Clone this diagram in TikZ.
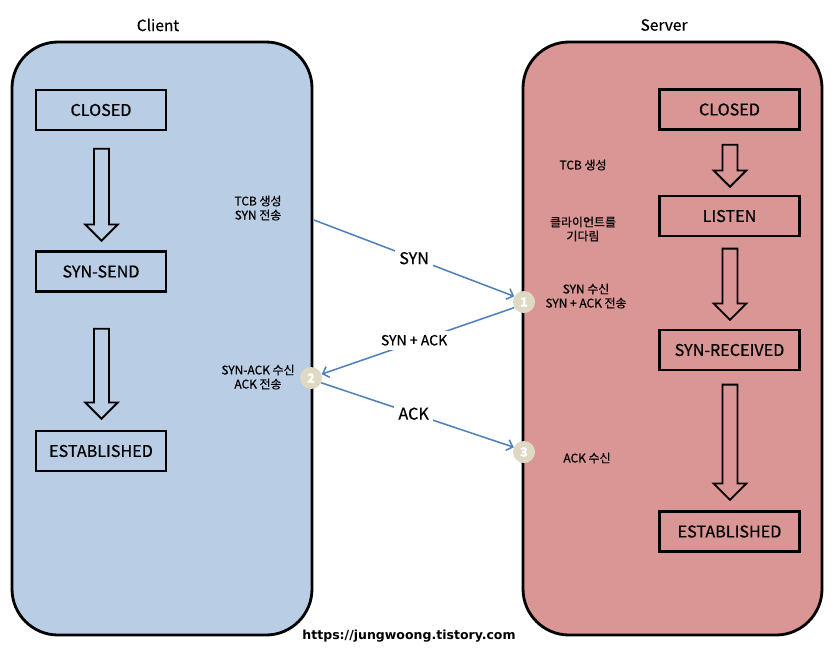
\documentclass[tikz,border=0pt]{standalone}
\usepackage{fontspec}
\setmainfont{Noto Sans CJK KR}[FakeBold=0.6]
\newfontfamily\sitefont{DejaVu Sans}
\usetikzlibrary{shapes.arrows,arrows.meta,positioning}
\definecolor{clientblue}{HTML}{B9CDE5}
\definecolor{serverred}{HTML}{D99694}
\definecolor{linkblue}{HTML}{4F81BD}
\definecolor{stepbeige}{HTML}{DDD9C3}
\tikzset{
  side/.style={draw, line width=2pt, rounded corners=1.15cm},
  state/.style={draw, line width=1.8pt, minimum width=3.4cm, minimum height=1cm, inner sep=0pt, font=\fontsize{11.5}{13}\selectfont},
  flow/.style={single arrow, draw, line width=1.3pt, rotate=-90, inner xsep=0pt, inner ysep=0.165cm,
    minimum width=0.775cm, single arrow head extend=0.22cm, single arrow tip angle=90},
  note/.style={align=center, font=\fontsize{8.5}{10}\selectfont},
  stepno/.style={circle, fill=stepbeige, text=white, inner sep=0pt, minimum size=0.55cm, font=\bfseries\fontsize{9}{9}\selectfont},
  msg/.style={draw=linkblue, line width=1.1pt, -{Straight Barb[length=4pt,width=8pt]}},
  msglabel/.style={fill=white, inner sep=3pt, font=\fontsize{11.5}{13}\selectfont}
}
\begin{document}
\begin{tikzpicture}[x=0.025cm, y=-0.025cm]
  \useasboundingbox (0,0) rectangle (840,653);
  % the two sides
  \draw[side, fill=clientblue] (12,42) rectangle (312,635);
  \draw[side, fill=serverred] (523,42) rectangle (822,635);
  \node (client) at (158,25) {\fontsize{11}{13}\selectfont Client};
  \node (server) at (664,25) {\fontsize{11}{13}\selectfont Server};

  % client states
  \node[state, minimum width=3.25cm] (cclosed) at (101,110) {CLOSED};
  \node[state, minimum width=3.25cm] (csent) at (101,271.5) {SYN-SEND};
  \node[state, minimum width=3.25cm] (cest) at (101,451) {ESTABLISHED};
  \node[flow, minimum height=2.3cm] (ca1) at (101.5,191) {};
  \node[flow, minimum height=2.25cm] (ca2) at (101.5,370) {};

  % server states
  \node[state, minimum width=3.5cm] (sclosed) at (729.5,109.5) {CLOSED};
  \node[state, minimum width=3.5cm] (slisten) at (729.5,216) {LISTEN};
  \node[state, minimum width=3.5cm] (srecv) at (729.5,350) {SYN-RECEIVED};
  \node[state, minimum width=3.5cm] (sest) at (729.5,531.5) {ESTABLISHED};
  \node[flow, minimum height=1.05cm] (sa1) at (730,162) {};
  \node[flow, minimum height=1.78cm] (sa2) at (730,280.5) {};
  \node[flow, minimum height=2.88cm] (sa3) at (730,438.5) {};

  % handshake steps
  \node[stepno] (one) at (524,302) {1};
  \node[stepno] (two) at (311,378) {2};
  \node[stepno] (three) at (524,452) {3};
  \coordinate (synstart) at (314,220);

  \draw[msg] (synstart) -- node[msglabel, pos=0.5] {SYN} (one.150);
  \draw[msg] (one.210) -- node[msglabel, pos=0.52, font=\fontsize{10}{12}\selectfont, yshift=0.05cm] {SYN + ACK} (two.20);
  \draw[msg] (two.-25) -- node[msglabel, pos=0.48] {ACK} (three.155);

  % notes
  \node[note] (n1) at (258,208) {TCB 생성\\SYN 전송};
  \node[note] (n2) at (258,377) {SYN-ACK 수신\\ACK 전송};
  \node[note] (n3) at (583,165) {TCB 생성};
  \node[note] (n4) at (583,229) {클라이언트를\\기다림};
  \node[note] (n5) at (586,296) {SYN 수신\\SYN + ACK 전송};
  \node[note] (n6) at (587,458) {ACK 수신};

  \node[font=\sitefont\bfseries\fontsize{8.9}{10}\selectfont] (site) at (409,636) {https://jungwoong.tistory.com};
\end{tikzpicture}
\end{document}
